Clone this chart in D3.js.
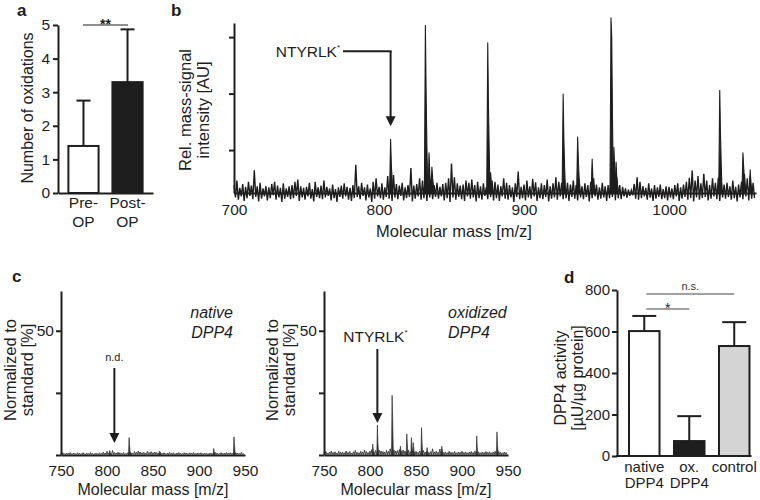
<!DOCTYPE html>
<html><head><meta charset="utf-8">
<script src="https://cdn.jsdelivr.net/npm/d3@7"></script>
<style>
body{margin:0;background:#fff}
svg{display:block}
</style></head><body>
<svg id="fig" width="760" height="500"></svg>
<script>
// ---------------- Panel a ----------------
const groupsA = ["Pre-OP", "Post-OP"];
const labelsA = [["Pre-", "OP"], ["Post-", "OP"]];
const meansA = [1.4, 3.3];
const errA = [1.35, 1.57];
const fillsA = ["#ffffff", "#1e1e1e"];
const ticksA = [0, 1, 2, 3, 4, 5];

// ---------------- Panel b ----------------
const ticksB = [1, 2, 3];
const xTicksB = [700, 800, 900, 1000];
const baseB = 0.24;
// noise in hundredths of a unit, up at m=700+2i, down at m=701+2i
const noiseUpB = [14,22,9,16,11,20,13,40,12,18, 8,12,10,16,20,13,9,17,8,12,
  14,20,24,12,9,11,18,7,20,10, 13,22,11,8,15,7,10,13,17,11,
  9,14,50,12,18,10,15,8,20,26, 11,17,10,30,22,32,16,13,18,10,
  14,44,13,16,26,22,32,20,24,14, 18,11,16,18,26,52,28,17,13,15,
  22,18,24,14,20,12,17,10,26,22, 20,15,12,26,18,14,10,17,38,11,
  15,22,12,25,19,10,17,14,24,12, 17,28,20,18,22,18,15,22,14,24,
  12,17,14,20,26,15,10,18,12,14, 22,55,28,14,11,8,6,5,16,28,
  20,12,9,17,8,14,10,15,7,12, 11,8,14,17,10,15,20,27,40,22,
  30,17,34,22,14,26,18,27,20,15, 18,12,22,11,15,20,34,26,30,18];
const noiseDownB = [8,12,6,14,9,5,11,7,15,10, 6,13,9,4,12,8,16,10,7,11,
  9,5,14,8,12,6,10,15,7,9, 11,8,5,13,9,16,7,10,6,12,
  14,9,7,11,5,13,8,16,10,6, 9,12,7,10,14,8,11,5,13,9,
  7,15,10,6,12,9,14,8,11,7, 10,6,13,9,16,8,12,7,11,14,
  6,10,8,15,9,12,5,11,7,13, 9,14,6,10,12,8,16,7,11,9,
  13,8,10,6,14,9,11,7,15,10, 8,12,6,11,9,14,7,10,13,8,
  11,7,15,9,6,12,10,8,14,9, 7,13,9,11,6,8,5,4,10,12,
  9,6,12,8,14,10,7,11,9,13, 8,11,6,14,10,7,12,9,15,8,
  12,9,7,13,10,6,11,14,8,10, 7,12,9,15,8,11,6,13,10,9];
// [m/z, peak height, shoulder height]
const peaksB = [[808,1.19,0.75],[832,3.21,2.0],[834.5,0.95,0.6],[836.5,0.7,0.5],
  [875,2.9,1.76],[877,0.6,0.4],[927,1.99,1.19],[937,1.23,0.8],[947,0.84,0.5],
  [960,3.34,3.0],[962,1.05,0.7],[963.5,0.79,0.5],[1035,2.06,1.3],[1051,0.95,0.7],[1056,0.65,0.4]];

// ---------------- Panel c ----------------
const xTicksC = [750, 800, 850, 900, 950];
const yTicksC = [0, 25, 50];
// noise in tenths of a percent, at m=750+2i
const noiseNative = [6,9,5,8,7,10,6,8,5,9, 7,6,9,5,8,6,10,7,5,8,
  6,9,7,12,8,15,9,7,18,10, 8,11,9,7,10,6,9,12,10,8,
  14,10,16,12,9,11,8,15,10,13, 9,12,10,8,11,7,9,6,8,10,
  7,9,6,8,10,7,6,9,8,6, 9,7,10,6,8,7,9,6,8,7,
  6,8,7,9,10,8,6,9,7,8, 10,8,9,7,11,9,8,7,10,6];
const noiseOxid = [9,14,8,12,16,10,13,8,15,11, 12,9,16,10,14,8,13,18,11,9,
  15,12,20,14,10,16,22,13,18,15, 20,16,14,12,18,15,25,14,20,16,
  18,22,15,20,16,14,19,13,17,12, 15,11,16,13,18,12,15,10,14,25,
  12,15,11,24,14,10,13,9,15,11, 10,14,9,12,11,15,10,13,9,12,
  14,10,16,11,13,9,12,10,14,11, 13,9,12,15,10,14,11,9,12,10];
const peaksNative = [[803,1.8,1],[824,7,3.5],[857,1.6,1],[916,2.6,1.2],[938,7.3,4]];
const peaksOxid = [[803,4.4,2],[808,12,5],[824,24,15],[833,3.5,2],[840,8.5,4],[845,7,3.5],
  [847,5,2.5],[856,11,5],[862,3,1.5],[878,3.5,2],[916,7.7,3],[938,9.3,4]];

// ---------------- Panel d ----------------
const groupsD = ["native DPP4", "ox. DPP4", "control"];
const labelsD = [["native", "DPP4"], ["ox.", "DPP4"], ["control"]];
const meansD = [602, 72, 530];
const errD = [73, 120, 115];
const fillsD = ["#ffffff", "#1e1e1e", "#d4d4d4"];
const ticksD = [0, 200, 400, 600, 800];

// =============== drawing ===============
const FONT = '"Liberation Sans", Arial, Helvetica, sans-serif';
const INK = "#1e1e1e";
const svg = d3.select("#fig");
const fmt = d3.format("d");

function styleAxis(g, fs) {
  g.attr("font-family", FONT).attr("font-size", fs);
  g.selectAll("path.domain").attr("stroke", INK).attr("stroke-width", 2);
  g.selectAll(".tick line").attr("stroke", INK).attr("stroke-width", 2);
  g.selectAll(".tick text").attr("fill", INK);
}
function txt(x, y, s, o = {}) {
  return svg.append("text").attr("x", x).attr("y", y).text(s)
    .attr("font-family", FONT).attr("font-size", o.fs || 15)
    .attr("font-weight", o.fw || "normal").attr("font-style", o.it ? "italic" : "normal")
    .attr("text-anchor", o.anchor || "middle").attr("fill", o.fill || INK);
}
function vtxt(x, y, s, fs) {
  svg.append("text").attr("transform", `translate(${x},${y}) rotate(-90)`)
    .attr("dy", "0.35em").attr("text-anchor", "middle")
    .attr("font-family", FONT).attr("font-size", fs || 15).attr("fill", INK).text(s);
}
function arrow(x, y0, y1) {
  svg.append("line").attr("x1", x).attr("x2", x).attr("y1", y0).attr("y2", y1 - 8)
    .attr("stroke", INK).attr("stroke-width", 2);
  svg.append("path").attr("d", `M${x - 5},${y1 - 10} L${x + 5},${y1 - 10} L${x},${y1} Z`).attr("fill", INK);
}

// ---- Panel letters
txt(17, 16, "a", {fs: 17, fw: "bold", anchor: "start"});
txt(171, 16, "b", {fs: 17, fw: "bold", anchor: "start"});
txt(12, 282, "c", {fs: 17, fw: "bold", anchor: "start"});
txt(564, 283, "d", {fs: 17, fw: "bold", anchor: "start"});

// ---- Panel a
{
  const y = d3.scaleLinear().domain([0, 5]).range([193, 25]);
  const x = d3.scaleBand().domain(groupsA).range([58, 153]).paddingInner(0.315).paddingOuter(0.236);
  const bw = x.bandwidth();
  groupsA.forEach((g, i) => {
    const cx = x(g) + bw / 2;
    svg.append("line").attr("x1", cx).attr("x2", cx).attr("y1", y(meansA[i])).attr("y2", y(meansA[i] + errA[i]))
      .attr("stroke", INK).attr("stroke-width", 2);
    svg.append("line").attr("x1", cx - 7).attr("x2", cx + 7).attr("y1", y(meansA[i] + errA[i])).attr("y2", y(meansA[i] + errA[i]))
      .attr("stroke", INK).attr("stroke-width", 2);
    svg.append("rect").attr("x", x(g)).attr("y", y(meansA[i])).attr("width", bw).attr("height", y(0) - y(meansA[i]))
      .attr("fill", fillsA[i]).attr("stroke", INK).attr("stroke-width", 2);
    labelsA[i].forEach((l, k) => txt(cx, 208 + k * 19, l, {fs: 15.5}));
  });
  svg.append("g").attr("transform", "translate(58,0)")
    .call(d3.axisLeft(y).tickValues(ticksA).tickFormat(fmt).tickSize(5).tickSizeOuter(0).tickPadding(3)).call(g => styleAxis(g, 15.5));
  svg.append("g").attr("transform", `translate(0,${y(0)})`)
    .call(d3.axisBottom(x).tickSize(0).tickSizeOuter(0).tickFormat("")).call(g => styleAxis(g, 15));
  vtxt(27, 108, "Number of oxidations", 16);
  svg.append("line").attr("x1", 83).attr("x2", 128).attr("y1", 25).attr("y2", 25).attr("stroke", INK).attr("stroke-width", 1);
  txt(105.5, 29, "**", {fs: 14, fw: "bold"});
}

// ---- Panel b
{
  const y = d3.scaleLinear().domain([baseB, 3.25]).range([193, 23]);
  const x = d3.scaleLinear().domain([700, 1060]).range([234, 756]);
  const pts = [];
  noiseUpB.forEach((u, i) => {
    pts.push([700 + 2 * i, baseB + u / 100]);
    pts.push([701 + 2 * i, baseB - noiseDownB[i] / 100]);
  });
  const line = d3.line().x(d => x(d[0])).y(d => y(d[1]));
  svg.append("path").attr("d", line(pts)).attr("fill", "none").attr("stroke", INK).attr("stroke-width", 1.4);
  peaksB.forEach(p => {
    const [m, h, s] = p;
    const pp = [[m - 0.7, baseB], [m, h], [m + 0.5, s], [m + 1.0, baseB + (s - baseB) * 0.5], [m + 1.6, baseB]];
    svg.append("path").attr("d", line(pp) + "Z").attr("fill", INK).attr("stroke", INK).attr("stroke-width", 1.1)
      .attr("stroke-linejoin", "round");
  });
  svg.append("g").attr("transform", "translate(234,0)")
    .call(d3.axisLeft(y).tickValues(ticksB).tickFormat("").tickSize(5).tickSizeOuter(0)).call(g => styleAxis(g, 15));
  svg.append("g").attr("transform", "translate(0,193)")
    .call(d3.axisBottom(x).tickValues(xTicksB).tickFormat(fmt).tickSize(0).tickSizeOuter(0).tickPadding(11)).call(g => styleAxis(g, 15.5));
  txt(454, 237, "Molecular mass [m/z]", {fs: 16.5});
  vtxt(185, 110, "Rel. mass-signal", 16.5);
  vtxt(203, 110, "intensity [AU]", 16.5);
  // annotation
  const ax = x(808), ly = y(2.75);
  svg.append("line").attr("x1", 343).attr("x2", ax + 1).attr("y1", ly).attr("y2", ly).attr("stroke", INK).attr("stroke-width", 2);
  arrow(ax, ly, y(1.42));
  const t = txt(340, ly + 6, "NTYRLK", {fs: 15.5, anchor: "end"});
  t.append("tspan").attr("font-size", 8).attr("dy", -7).text("*");
}

// ---- Panel c
function specPanel(x0, noise, peaks) {
  const y = d3.scaleLinear().domain([0, 66]).range([455, 291]);
  const x = d3.scaleLinear().domain([750, 950]).range([x0, x0 + 184]);
  const line = d3.line().x(d => x(d[0])).y(d => y(d[1]));
  const pts = [];
  noise.forEach((u, i) => { pts.push([750 + 2 * i, u / 10]); pts.push([751 + 2 * i, 0.2]); });
  svg.append("path").attr("d", line(pts)).attr("fill", "none").attr("stroke", "#333").attr("stroke-width", 0.9);
  peaks.forEach(p => {
    const [m, h, s] = p;
    const pp = [[m - 0.6, 0], [m, h], [m + 0.6, s], [m + 1.4, 0]];
    svg.append("path").attr("d", line(pp) + "Z").attr("fill", "#333").attr("stroke", "#333").attr("stroke-width", 0.7);
  });
  svg.append("g").attr("transform", `translate(${x0},0)`)
    .call(d3.axisLeft(y).tickValues(yTicksC).tickFormat(d => d === 50 ? "50" : "").tickSize(5).tickSizeOuter(0).tickPadding(2))
    .call(g => styleAxis(g, 15.5));
  svg.append("g").attr("transform", "translate(0,455)")
    .call(d3.axisBottom(x).tickValues(xTicksC).tickSize(0).tickSizeOuter(0).tickPadding(10)).call(g => styleAxis(g, 15.5));
  txt(x0 + 92, 495, "Molecular mass [m/z]", {fs: 16});
  return {x, y};
}
{
  const L = specPanel(61, noiseNative, peaksNative);
  vtxt(10, 370, "Normalized to", 16.5);
  vtxt(27, 370, "standard [%]", 16.5);
  txt(233, 318, "native", {fs: 16, it: true, anchor: "end"});
  txt(233, 338, "DPP4", {fs: 16, it: true, anchor: "end"});
  txt(L.x(808), 361, "n.d.", {fs: 11});
  arrow(L.x(808), 368, 443);

  const R = specPanel(324, noiseOxid, peaksOxid);
  vtxt(272, 370, "Normalized to", 16.5);
  vtxt(289, 370, "standard [%]", 16.5);
  txt(448, 318, "oxidized", {fs: 16, it: true, anchor: "start"});
  txt(448, 338, "DPP4", {fs: 16, it: true, anchor: "start"});
  const t = txt(R.x(808) - 2, 342, "NTYRLK", {fs: 15.5});
  t.append("tspan").attr("font-size", 8).attr("dy", -7).text("*");
  arrow(R.x(808), 349, 423);
}

// ---- Panel d
{
  const y = d3.scaleLinear().domain([0, 800]).range([456, 290]);
  const x = d3.scaleBand().domain(groupsD).range([617, 761.5]).paddingInner(0.322).paddingOuter(0.267);
  const bw = x.bandwidth();
  groupsD.forEach((g, i) => {
    const cx = x(g) + bw / 2;
    svg.append("line").attr("x1", cx).attr("x2", cx).attr("y1", y(meansD[i])).attr("y2", y(meansD[i] + errD[i]))
      .attr("stroke", INK).attr("stroke-width", 2);
    svg.append("line").attr("x1", cx - 12).attr("x2", cx + 12).attr("y1", y(meansD[i] + errD[i])).attr("y2", y(meansD[i] + errD[i]))
      .attr("stroke", INK).attr("stroke-width", 2);
    svg.append("rect").attr("x", x(g)).attr("y", y(meansD[i])).attr("width", bw).attr("height", y(0) - y(meansD[i]))
      .attr("fill", fillsD[i]).attr("stroke", INK).attr("stroke-width", 2);
    labelsD[i].forEach((l, k) => txt(cx, 472 + k * 16, l, {fs: 15}));
  });
  svg.append("g").attr("transform", "translate(617,0)")
    .call(d3.axisLeft(y).tickValues(ticksD).tickSize(5).tickSizeOuter(0).tickPadding(2)).call(g => styleAxis(g, 15));
  const xEnd = x("control") + bw + 2;
  svg.append("line").attr("x1", 616).attr("x2", xEnd).attr("y1", y(0)).attr("y2", y(0)).attr("stroke", INK).attr("stroke-width", 2);
  vtxt(560, 378, "DPP4 activity", 16);
  vtxt(577, 378, "[µU/µg protein]", 16);
  const c0 = x(groupsD[0]) + bw / 2 + 2, c1 = x(groupsD[1]) + bw / 2, c2 = x(groupsD[2]) + bw / 2;
  svg.append("line").attr("x1", c0).attr("x2", c2).attr("y1", 294).attr("y2", 294).attr("stroke", "#444").attr("stroke-width", 1);
  txt((c0 + c2) / 2, 290, "n.s.", {fs: 11, fill: "#333"});
  svg.append("line").attr("x1", c0).attr("x2", c1).attr("y1", 309).attr("y2", 309).attr("stroke", "#444").attr("stroke-width", 1);
  txt((c0 + c1) / 2, 313, "*", {fs: 14});
}
</script>
</body></html>
